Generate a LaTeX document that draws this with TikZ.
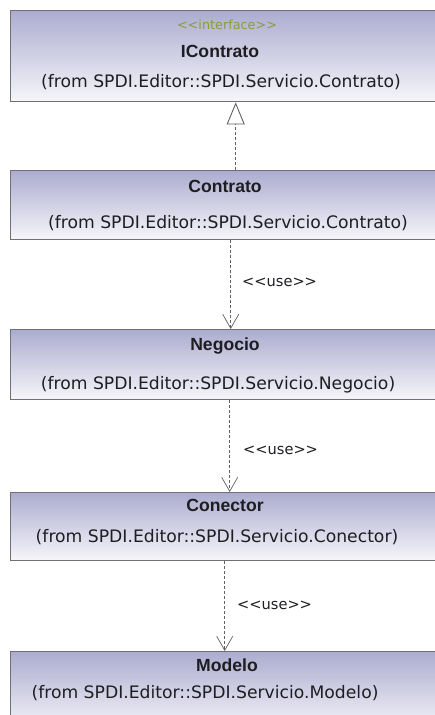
\documentclass[tikz,border=0pt]{standalone}
\usepackage{fontspec}
\setmainfont{DejaVu Sans}
\newfontfamily\namefont{Liberation Sans}
\usetikzlibrary{arrows.meta}

\definecolor{boxtop}{RGB}{172,172,208}
\definecolor{boxbot}{RGB}{246,246,250}
\definecolor{boxline}{RGB}{112,112,116}
\definecolor{stereo}{RGB}{140,156,58}
\definecolor{txt}{RGB}{30,30,34}
\definecolor{wire}{RGB}{96,96,100}

\newcommand{\stereotype}[1]{{<}{<}#1{>}{>}}

\tikzset{
  classbox/.style={draw=boxline, line width=1.4pt, top color=boxtop, bottom color=boxbot,
    minimum width=440pt, anchor=north west, inner sep=0pt},
  cname/.style={font=\namefont\bfseries\fontsize{17.6}{19}\selectfont, text=txt, inner sep=0pt},
  cfrom/.style={font=\fontsize{17.2}{19}\selectfont, text=txt, inner sep=0pt},
  cstereo/.style={font=\fontsize{12.8}{14}\selectfont, text=stereo, inner sep=0pt},
  uselabel/.style={font=\fontsize{14.6}{16}\selectfont, text=txt, inner sep=0pt, anchor=west},
  realize/.style={draw=wire, line width=0.9pt, dash pattern=on 3pt off 2pt,
    -{Triangle[open, length=22pt, width=18pt, fill=white, line width=0.9pt]}},
  usedep/.style={draw=wire, line width=0.9pt, dash pattern=on 3pt off 2pt,
    -{Straight Barb[length=14pt, width=16pt, line width=0.7pt]}},
}

\begin{document}
\begin{tikzpicture}[x=1pt, y=-1pt]
  \useasboundingbox (0,0) rectangle (435,715);
  \clip (0,0) rectangle (435,715);
  \fill[white] (0,0) rectangle (435,715);

  % class boxes
  \node[classbox, minimum height=91pt] (ic) at (10,10) {};
  \node[classbox, minimum height=69pt] (ct) at (10,170) {};
  \node[classbox, minimum height=70pt] (ng) at (10,329) {};
  \node[classbox, minimum height=68pt] (cn) at (10,492) {};
  \node[classbox, minimum height=80pt] (md) at (10,651) {};

  % IContrato
  \node[cstereo] (ic-st) at (227,25) {\stereotype{interface}};
  \node[cname] (ic-name) at (220,51) {IContrato};
  \node[cfrom] (ic-from) at (221,82) {(from SPDI.Editor::SPDI.Servicio.Contrato)};

  % Contrato
  \node[cname] (ct-name) at (225,186) {Contrato};
  \node[cfrom] (ct-from) at (228,223) {(from SPDI.Editor::SPDI.Servicio.Contrato)};

  % Negocio
  \node[cname] (ng-name) at (225,346) {Negocio};
  \node[cfrom] (ng-from) at (218,385) {(from SPDI.Editor::SPDI.Servicio.Negocio)};

  % Conector
  \node[cname] (cn-name) at (225,505) {Conector};
  \node[cfrom] (cn-from) at (217,537) {(from SPDI.Editor::SPDI.Servicio.Conector)};

  % Modelo
  \node[cname] (md-name) at (227,665) {Modelo};
  \node[cfrom] (md-from) at (205,693) {(from SPDI.Editor::SPDI.Servicio.Modelo)};

  % realization and dependencies
  \draw[realize] ([xshift=5pt]ct.north) -- ([xshift=5pt]ic.south);
  \draw[usedep] (ct.south) -- (ng.north);
  \draw[usedep] ([xshift=-1pt]ng.south) -- ([xshift=-1pt]cn.north);
  \draw[usedep] ([xshift=-6pt]cn.south) -- ([xshift=-6pt]md.north);

  \node[uselabel] (u1) at (242,282) {\stereotype{use}};
  \node[uselabel] (u2) at (243,450) {\stereotype{use}};
  \node[uselabel] (u3) at (237,605) {\stereotype{use}};
\end{tikzpicture}
\end{document}
